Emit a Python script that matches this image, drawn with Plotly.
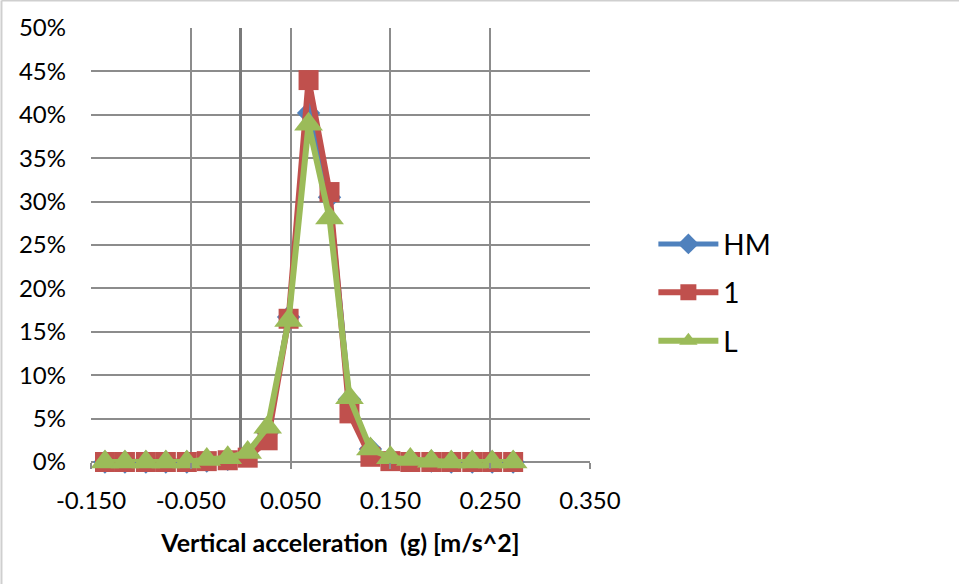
import plotly.graph_objects as go

# Vertical acceleration bins (g)
accel = [-0.136, -0.116, -0.095, -0.075, -0.054, -0.034, -0.013, 0.007, 0.027, 0.048,
         0.068, 0.089, 0.109, 0.130, 0.150, 0.170, 0.191, 0.211, 0.232, 0.252, 0.273]

# Share of samples falling in each bin
share_hm = [0, 0, 0, 0, 0, 0.001, 0.003, 0.008, 0.034, 0.167,
            0.402, 0.305, 0.072, 0.015, 0.004, 0.002, 0.001, 0, 0, 0, 0]
share_1 = [0, 0, 0, 0, 0, 0.001, 0.002, 0.005, 0.025, 0.165,
           0.440, 0.311, 0.056, 0.006, 0.001, 0, 0, 0, 0, 0, 0]
share_l = [0, 0, 0, 0, 0, 0.003, 0.005, 0.011, 0.040, 0.163,
           0.389, 0.281, 0.074, 0.015, 0.005, 0.003, 0.001, 0, 0, 0, 0]

x_ticks = [-0.15, -0.05, 0.05, 0.15, 0.25, 0.35]
x_labels = ["-0.150", "-0.050", "0.050", "0.150", "0.250", "0.350"]
y_ticks = [0, 0.05, 0.10, 0.15, 0.20, 0.25, 0.30, 0.35, 0.40, 0.45, 0.50]

FONT = "Lato, 'Open Sans', sans-serif"
GRID = "#8c8c8c"

series = [
    ("HM", share_hm, "#4F81BD", "diamond", 18, 5),
    ("1", share_1, "#C0504D", "square", 20, 6),
    ("L", share_l, "#9BBB59", "triangle-up", 25, 6),
]

fig = go.Figure()
for i, (name, vals, color, symbol, msize, lw) in enumerate(series):
    fig.add_trace(go.Scatter(
        x=accel, y=vals, name=name, mode="lines+markers",
        line=dict(color=color, width=lw),
        marker=dict(symbol=symbol, size=msize, color=color, line=dict(width=0)),
        legendgroup=f"g{i}", cliponaxis=False,
    ))

fig.update_layout(
    width=959, height=584,
    margin=dict(l=91, r=369, t=28, b=122),
    paper_bgcolor="white", plot_bgcolor="white",
    font=dict(family=FONT, size=24, color="black"),
    showlegend=True,
    legend=dict(
        x=1.127, y=0.39, xanchor="left", yanchor="middle",
        font=dict(family=FONT, size=28, color="black"),
        itemwidth=60, tracegroupgap=9, bgcolor="rgba(0,0,0,0)",
    ),
    xaxis=dict(
        range=[-0.15, 0.35], tickvals=x_ticks, ticktext=x_labels,
        showgrid=True, gridcolor=GRID, gridwidth=2,
        zeroline=True, zerolinecolor="#7a7a7a", zerolinewidth=3,
        ticks="outside", ticklen=6, tickcolor=GRID, tickwidth=2,
        showline=False, ticklabelstandoff=11,
        title=dict(text="<b>Vertical acceleration  (g) [m/s^2]</b>",
                   font=dict(family=FONT, size=25, color="black"), standoff=21),
    ),
    yaxis=dict(
        range=[0, 0.5], tickvals=y_ticks, tickformat=".0%",
        showgrid=True, gridcolor=GRID, gridwidth=2,
        zeroline=True, zerolinecolor=GRID, zerolinewidth=2,
        ticks="", showline=False, ticklabelstandoff=24,
    ),
)

# Light chart-area frame along the top and left edges
fig.add_shape(type="line", xref="paper", yref="paper",
              x0=-0.1794, x1=1.74, y0=1.0634, y1=1.0634,
              line=dict(color="#cfcfcf", width=2))
fig.add_shape(type="line", xref="paper", yref="paper",
              x0=-0.1794, x1=-0.1794, y0=1.0634, y1=-0.29,
              line=dict(color="#cfcfcf", width=2))

fig.write_html("out.html")
